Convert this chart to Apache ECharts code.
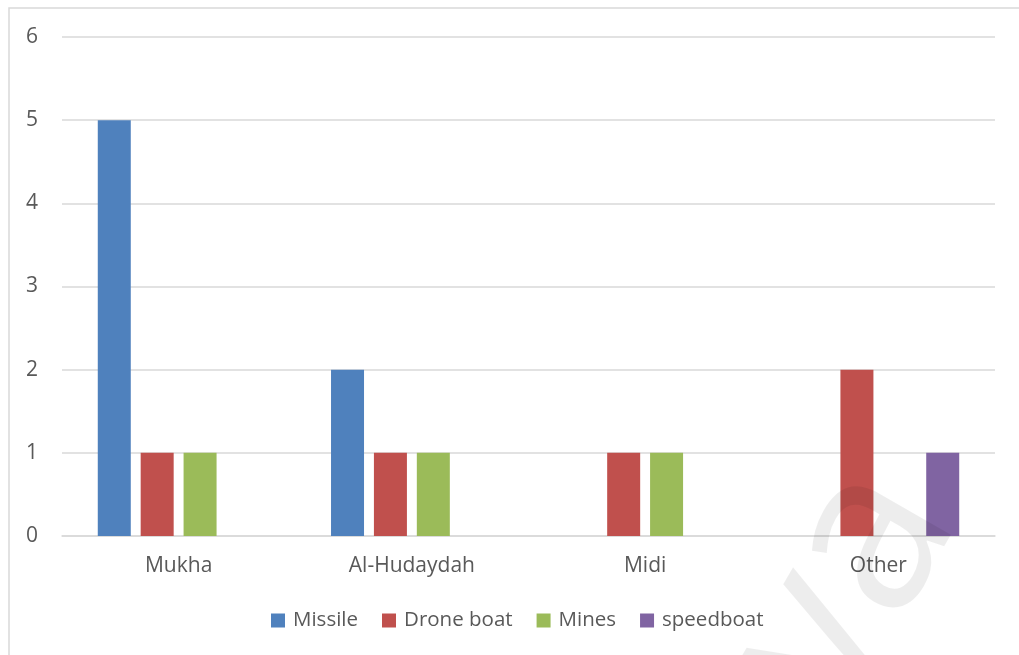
<!DOCTYPE html>
<html>
<head>
<meta charset="utf-8">
<title>Attacks by launch area</title>
<script src="https://cdn.jsdelivr.net/npm/echarts@6/dist/echarts.min.js"></script>
<style>
  html, body { margin: 0; padding: 0; background: #ffffff; }
  #chart { width: 1019px; height: 655px; }
</style>
</head>
<body>
<div id="chart"></div>
<script>
// Launch areas along the x axis
const categories = ['Mukha', 'Al-Hudaydah', 'Midi', 'Other'];

// Incident counts per attack type
const missile   = [5, 2, 0, 0];
const droneBoat = [1, 1, 1, 2];
const mines     = [1, 1, 1, 0];
const speedboat = [0, 0, 0, 1];

const yTicks = [0, 1, 2, 3, 4, 5, 6];

const seriesDefs = [
  { name: 'Missile',    data: missile,   color: '#4F81BD' },
  { name: 'Drone boat', data: droneBoat, color: '#C0504D' },
  { name: 'Mines',      data: mines,     color: '#9BBB59' },
  { name: 'speedboat',  data: speedboat, color: '#8064A2' }
];

const font = '"Open Sans", "Noto Sans", sans-serif';
const textColor = '#595959';
const gridColor = '#d9d9d9';

const chart = echarts.init(document.getElementById('chart'), null, { renderer: 'canvas' });

chart.setOption({
  animation: false,
  backgroundColor: '#ffffff',
  textStyle: { fontFamily: font },
  grid: { left: 62, right: 24, top: 37, bottom: 119, containLabel: false },
  legend: {
    bottom: 19,
    left: 266,
    itemWidth: 14,
    itemHeight: 14,
    itemGap: 24,
    icon: 'rect',
    textStyle: { fontFamily: font, fontSize: 20.5, color: textColor, padding: [0, 0, 0, 3] },
    data: seriesDefs.map(s => s.name)
  },
  xAxis: {
    type: 'category',
    data: categories,
    axisLine: { lineStyle: { color: gridColor, width: 1.5 } },
    axisTick: { show: false },
    axisLabel: { fontFamily: font, fontSize: 21, color: textColor, margin: 20 }
  },
  yAxis: {
    type: 'value',
    min: yTicks[0],
    max: yTicks[yTicks.length - 1],
    interval: 1,
    axisLine: { show: false },
    axisTick: { show: false },
    axisLabel: { fontFamily: font, fontSize: 21, color: textColor, margin: 24 },
    splitLine: { lineStyle: { color: gridColor, width: 1.5 } }
  },
  series: seriesDefs.map(s => ({
    name: s.name,
    type: 'bar',
    data: s.data,
    barWidth: 33,
    barGap: '30%',
    itemStyle: { color: s.color }
  })),
  graphic: [
    {
      type: 'rect',
      shape: { x: 9, y: 8, width: 1100, height: 700 },
      style: { fill: 'none', stroke: '#d9d9d9', lineWidth: 1.5 },
      silent: true,
      z: 100
    },
    {
      type: 'text',
      x: 845,
      y: 590,
      rotation: Math.PI / 3,
      style: {
        text: 'ya',
        fontFamily: font,
        fontSize: 225,
        fill: 'rgba(0,0,0,0.07)',
        align: 'center',
        verticalAlign: 'middle'
      },
      silent: true,
      z: 100
    }
  ]
});
</script>
</body>
</html>
